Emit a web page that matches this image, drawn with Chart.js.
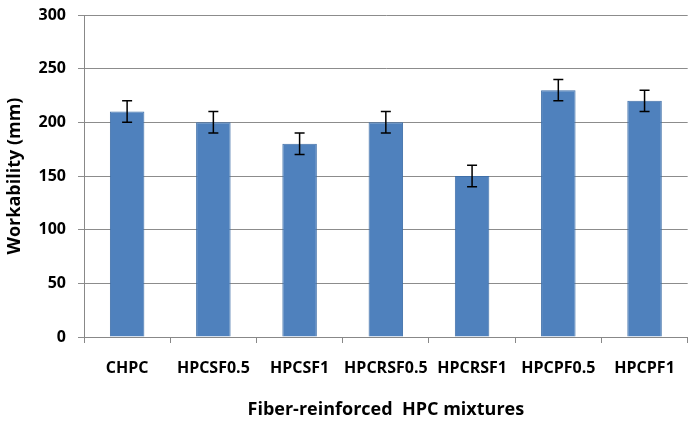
<!DOCTYPE html>
<html><head><meta charset="utf-8">
<script src="https://cdn.jsdelivr.net/npm/chart.js@4.4.0/dist/chart.umd.min.js"></script>
<style>html,body{margin:0;padding:0;background:#fff}#wrap{width:691px;height:425px}</style>
</head><body><div id="wrap"><canvas id="c" width="691" height="425"></canvas></div>
<script>
const categories = ["CHPC","HPCSF0.5","HPCSF1","HPCRSF0.5","HPCRSF1","HPCPF0.5","HPCPF1"];
const workability = [210,200,180,200,150,230,220];
const errors = [10,10,10,10,10,10,10];
const yTicks = [0,50,100,150,200,250,300];

const errorBars = {
  id:'errorBars',
  afterDatasetsDraw(chart){
    const ctx=chart.ctx, y=chart.scales.y, meta=chart.getDatasetMeta(0);
    ctx.save();ctx.strokeStyle='#000';ctx.lineWidth=1.5;
    meta.data.forEach((bar,i)=>{
      const x=bar.x, top=y.getPixelForValue(workability[i]+errors[i]), bot=y.getPixelForValue(workability[i]-errors[i]);
      ctx.beginPath();
      ctx.moveTo(x,top);ctx.lineTo(x,bot);
      ctx.moveTo(x-5,top);ctx.lineTo(x+5,top);
      ctx.moveTo(x-5,bot);ctx.lineTo(x+5,bot);
      ctx.stroke();
    });
    ctx.restore();
  }
};
const font = {family:"'Open Sans', sans-serif", weight:'bold', size:16};
new Chart(document.getElementById('c'),{
  type:'bar',
  data:{labels:categories,datasets:[{data:workability,backgroundColor:'#4F81BD',borderColor:'#3F6FA8',borderWidth:1,categoryPercentage:1,barPercentage:0.4}]},
  options:{
    responsive:false,animation:false,
    layout:{padding:{top:0,right:3,left:0,bottom:0}},
    plugins:{legend:{display:false},tooltip:{enabled:false}},
    scales:{
      x:{
        grid:{display:true,drawOnChartArea:false,offset:true,tickLength:6,color:'#888'},
        border:{color:'#888'},
        ticks:{color:'#000',font:font,padding:16,maxRotation:0,autoSkip:false},
        title:{display:true,text:'Fiber-reinforced  HPC mixtures',color:'#000',font:{family:"'Open Sans', sans-serif",weight:'bold',size:18},padding:{top:12}},
        afterFit(s){s.height=88;}
      },
      y:{
        min:0,max:300,
        afterBuildTicks(s){s.ticks=yTicks.map(v=>({value:v}));},
        grid:{color:'#8c8c8c',tickLength:6},
        border:{color:'#888'},
        ticks:{color:'#000',font:font,padding:12},
        title:{display:true,text:'Workability (mm)',color:'#000',font:{family:"'Open Sans', sans-serif",weight:'bold',size:18},padding:{bottom:2}},
        afterFit(s){s.width=84;s.paddingTop=15;}
      }
    }
  },
  plugins:[errorBars]
});
</script></body></html>
